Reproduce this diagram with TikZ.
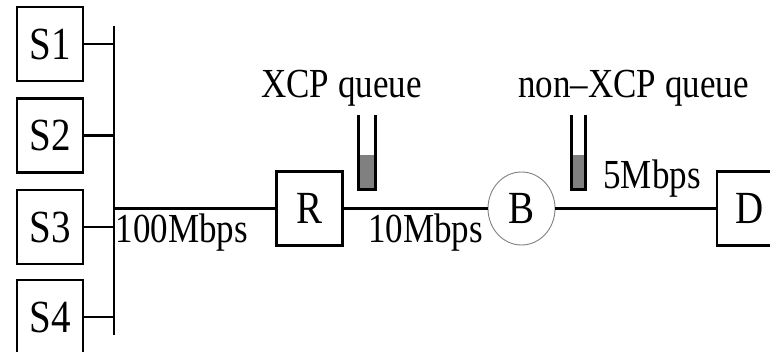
\documentclass[tikz,border=0pt]{standalone}
\usepackage{fontspec}
\setmainfont{Liberation Serif}
\usepackage{graphicx}
\usetikzlibrary{shapes.geometric}

\newcommand{\tallbox}[1]{\scalebox{1}[1.18]{#1}}
\tikzset{
  host/.style={draw, line width=2.8pt, minimum width=66pt, minimum height=74pt, inner sep=0pt, font=\fontsize{39}{39}\selectfont},
  bottleneck/.style={draw=gray, line width=0.9pt, ellipse, minimum width=67pt, minimum height=73pt, inner sep=0pt, font=\fontsize{39}{39}\selectfont},
  rate/.style={anchor=base, inner sep=0pt, font=\fontsize{35}{35}\selectfont},
  wire/.style={line width=2.7pt},
  qfill/.style={fill=gray, draw=none}
}

\begin{document}
\begin{tikzpicture}[x=1pt, y=1pt]
                \useasboundingbox (0,0) rectangle (770,351);
                % Hosts, bus and links:
                \node[host](S1) at (50,307){\tallbox{S1}};
                \node[host](S2) at (50,215.5){\tallbox{S2}};
                \node[host](S3) at (50,124){\tallbox{S3}};
                \node[host](S4) at (50,34){\tallbox{S4}};
                \coordinate (T1) at (114,325);
                \coordinate (T2) at (114,16);
                \draw[wire] (T1) -- (T2);
                \foreach \n in {S1,S2,S3,S4} \draw[wire] (\n.east) -- (\n.east -| T1);
                \node[host](R) at (309.5,142.5){\tallbox{R}};
                \node[bottleneck](B) at (521.5,142.5){\tallbox{B}};
                \node[host](D) at (750,142.5){\tallbox{D}};
                \draw[wire] (R.west -| T1) -- (R.west);
                \draw[wire] (R.east) -- (B.west);
                \draw[wire] (B.east) -- (D.west);
                % Queues:
                \fill[qfill] (358.5,161.5) rectangle (375.5,196);
                \draw[wire] (358.5,236) -- (358.5,161.5) -- (375.5,161.5) -- (375.5,236);
                \fill[qfill] (571.5,161.5) rectangle (585.5,196);
                \draw[wire] (571.5,236) -- (571.5,161.5) -- (585.5,161.5) -- (585.5,236);
                % Labels:
                \node[rate](Q1) at (341.5,253){\tallbox{XCP queue}};
                \node[rate](Q2) at (633.5,253){\tallbox{non--XCP queue}};
                \node[rate](L1) at (182,109){\tallbox{100Mbps}};
                \node[rate](L2) at (425.5,109){\tallbox{10Mbps}};
                \node[rate](L3) at (652,163){\tallbox{5Mbps}};
            \end{tikzpicture}
\end{document}
